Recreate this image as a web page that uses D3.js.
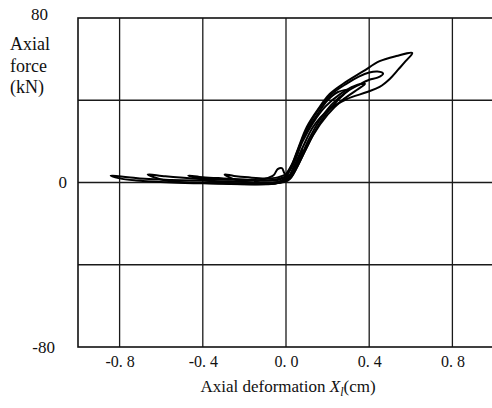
<!DOCTYPE html>
<html>
<head>
<meta charset="utf-8">
<script src="https://cdn.jsdelivr.net/npm/d3@7"></script>
<style>
	body { margin: 0; background: #fff; }
	text { font-family: "Liberation Serif", "DejaVu Serif", serif; fill: #111; }
</style>
</head>
<body>
<svg id="svg_canvas" width="492" height="408"></svg>
<script>
// tick values
var xTicks = [-0.8, -0.4, 0.0, 0.4, 0.8];
var yTicks = [-80, 0, 80];
var yGrid = [-40, 0, 40];

// hysteresis cycles, [deformation cm, force kN]
var cycle1 = [[0.0, 0.5], [0.02, 4], [0.05, 10], [0.08, 16], [0.06, 11], [0.03, 5], [0.0, 1.5],
	[-0.05, 0], [-0.10, -0.5], [-0.15, 0.5], [-0.11, 1.5], [-0.06, 3.5], [-0.04, 6.5],
	[-0.02, 7], [-0.01, 5], [0.0, 3]];
var cycle2 = [[0.0, 3], [0.03, 8], [0.06, 16], [0.10, 25], [0.15, 33], [0.20, 40], [0.25, 44],
	[0.30, 45], [0.28, 43], [0.24, 39], [0.19, 33], [0.14, 25], [0.09, 15], [0.05, 7], [0.02, 2],
	[-0.03, 0], [-0.10, -0.5], [-0.18, 0], [-0.25, 1.5], [-0.295, 3.9], [-0.25, 3.2],
	[-0.18, 2.5], [-0.10, 2], [-0.04, 2.5], [0.0, 4]];
var cycle3 = [[0.0, 4], [0.03, 9], [0.07, 19], [0.11, 28], [0.16, 36], [0.22, 43], [0.29, 48],
	[0.35, 51.5], [0.40, 53.5], [0.44, 54], [0.467, 53], [0.44, 51], [0.40, 50], [0.35, 47.5],
	[0.29, 44], [0.22, 38], [0.16, 30], [0.11, 21], [0.07, 12], [0.03, 4], [0.0, 1],
	[-0.06, -0.5], [-0.15, -0.8], [-0.25, -0.5], [-0.35, 0.5], [-0.42, 1.8], [-0.47, 3.4],
	[-0.40, 2.6], [-0.30, 2], [-0.20, 1.5], [-0.10, 1], [-0.03, 1.5], [0.0, 3]];
var cycle4 = [[0.0, 3], [0.03, 9], [0.06, 17], [0.10, 27], [0.15, 35], [0.21, 43], [0.275, 48],
	[0.37, 54], [0.45, 59], [0.53, 61.5], [0.607, 63], [0.575, 59], [0.54, 55], [0.50, 50.5],
	[0.45, 46.5], [0.39, 44], [0.29, 40.5], [0.20, 35], [0.13, 27], [0.08, 17], [0.04, 8], [0.01, 2],
	[-0.05, -0.5], [-0.15, -0.8], [-0.30, -0.5], [-0.45, 0], [-0.58, 1], [-0.665, 3.9],
	[-0.58, 3], [-0.45, 2], [-0.30, 1.5], [-0.15, 1], [-0.05, 1.5], [0.0, 3]];
var cycle5 = [[0.0, 3], [0.04, 10], [0.08, 20], [0.13, 29], [0.19, 37], [0.26, 43], [0.33, 47],
	[0.38, 48], [0.34, 45], [0.27, 40], [0.20, 33], [0.13, 23], [0.08, 13], [0.04, 5], [0.01, 1],
	[-0.06, -0.5], [-0.18, -0.8], [-0.35, -0.5], [-0.55, 0], [-0.72, 1], [-0.80, 2], [-0.843, 3.4],
	[-0.76, 2.6], [-0.68, 1.8], [-0.55, 1.2], [-0.40, 0.8], [-0.25, 0.5], [-0.12, 0],
	[-0.03, 0.5], [0.02, 4]];
var cycles = [cycle1, cycle2, cycle3, cycle4, cycle5];

// plot box (window.top is taken, so prefixed names)
var plotLeft = 78, plotTop = 18, plotRight = 494, plotBottom = 347;

var svgElement = d3.select("svg");

var x = d3.scaleLinear().domain([-1, 1]).range([plotLeft, plotRight]);
var y = d3.scaleLinear().domain([-80, 80]).range([plotBottom, plotTop]);

var drawGrid = function(){
	// vertical lines
	svgElement.selectAll("line.vgrid").data(xTicks).enter().append("line")
		.attr("class", "vgrid")
		.attr("x1", function(d){ return x(d); })
		.attr("x2", function(d){ return x(d); })
		.attr("y1", plotTop)
		.attr("y2", plotBottom)
		.attr("stroke", "#1a1a1a")
		.attr("stroke-width", 1.3);
	// horizontal lines
	svgElement.selectAll("line.hgrid").data(yGrid).enter().append("line")
		.attr("class", "hgrid")
		.attr("x1", plotLeft)
		.attr("x2", plotRight)
		.attr("y1", function(d){ return y(d); })
		.attr("y2", function(d){ return y(d); })
		.attr("stroke", "#1a1a1a")
		.attr("stroke-width", 1.3);
	// frame
	svgElement.append("rect")
		.attr("x", plotLeft)
		.attr("y", plotTop)
		.attr("width", plotRight - plotLeft)
		.attr("height", plotBottom - plotTop)
		.attr("fill", "none")
		.attr("stroke", "#111")
		.attr("stroke-width", 1.6);
};

var drawAxes = function(){
	var xAxis = d3.axisBottom(x)
		.tickValues(xTicks)
		.tickSize(0)
		.tickPadding(9)
		.tickFormat(function(d){ return d.toFixed(1).replace(".", ". "); });
	var gx = svgElement.append("g")
		.attr("transform", "translate(0," + plotBottom + ")")
		.call(xAxis);
	// axis() writes its own font attrs, so set them after the call
	gx.attr("font-size", 16).attr("font-family", "Liberation Serif");
	gx.select(".domain").remove();
	gx.selectAll("text").attr("fill", "#111");

	var yAxis = d3.axisLeft(y)
		.tickValues(yTicks)
		.tickSize(0)
		.tickPadding(11)
		.tickFormat(function(d){ return d; });
	var gy = svgElement.append("g")
		.attr("transform", "translate(" + plotLeft + ",0)")
		.call(yAxis);
	gy.attr("font-size", 17).attr("font-family", "Liberation Serif");
	gy.select(".domain").remove();
	// labels sit at uneven spots in the original
	gy.selectAll("text")
		.attr("fill", "#111")
		.attr("dx", function(d){ return d === 80 ? -19 : (d === -80 ? -12 : 0); })
		.attr("dy", function(d){ return d === 80 ? "0.1em" : "0.32em"; });

	// y title
	var yTitle = svgElement.append("text")
		.attr("x", 10)
		.attr("y", 50)
		.attr("font-size", 18);
	["Axial", "force", "(kN)"].forEach(function(s, i){
		yTitle.append("tspan")
			.attr("x", 10)
			.attr("dy", i === 0 ? 0 : 21.5)
			.text(s);
	});

	// x title
	var xTitle = svgElement.append("text")
		.attr("x", 288)
		.attr("y", 392)
		.attr("text-anchor", "middle")
		.attr("font-size", 17);
	xTitle.append("tspan").text("Axial deformation ");
	xTitle.append("tspan").attr("font-style", "italic").text("X");
	xTitle.append("tspan").attr("font-style", "italic").attr("font-size", 12).attr("dy", 4).text("l");
	xTitle.append("tspan").attr("dy", -4).text("(cm)");
};

var drawCycles = function(){
	var line = d3.line()
		.x(function(d){ return x(d[0]); })
		.y(function(d){ return y(d[1]); })
		.curve(d3.curveCatmullRom.alpha(0.5));
	svgElement.selectAll("path.cycle").data(cycles).enter().append("path")
		.attr("class", "cycle")
		.attr("d", line)
		.attr("fill", "none")
		.attr("stroke", "#000")
		.attr("stroke-width", 2)
		.attr("stroke-linejoin", "round");
};

drawGrid();
drawAxes();
drawCycles();
</script>
</body>
</html>
